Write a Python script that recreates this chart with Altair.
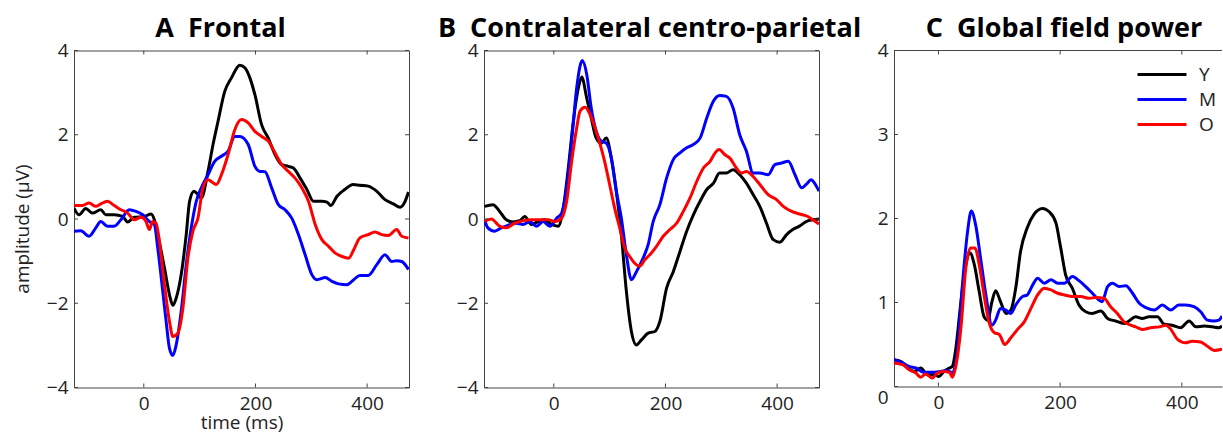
import altair as alt
import pandas as pd

FONT = "Open Sans"
SERIES = ["Y", "M", "O"]
COLORS = ["#000000", "#0000ff", "#ff0000"]
X_TICKS = [0, 200, 400]
Y_TICKS_AB = [-4, -2, 0, 2, 4]
Y_TICKS_C = [0, 1, 2, 3, 4]
TITLES = ["A\u00a0\u00a0Frontal", "B\u00a0\u00a0Contralateral centro-parietal", "C\u00a0\u00a0Global field power"]

A_Y = [(-125,0.26),(-116,0.1),(-104,0.25),(-92,0.14),(-77,0.22),(-68,0.1),(-53,0.1),(-38,0.06),(-29,-0.07),(-17,0.04),
       (1,0.06),(13,0.12),(19,-0.02),(25,-0.37),(37,-1.16),(46,-1.8),(52,-2.05),(58,-1.88),(67,-1.32),(76,-0.37),
       (82,0.42),(90,0.66),(97,0.58),(103,0.5),(115,1.13),(124,1.77),(133,2.32),(145,3.03),(157,3.35),(172,3.65),
       (181,3.59),(190,3.35),(199,2.95),(211,2.24),(223,1.92),(235,1.53),(247,1.29),(259,1.25),(268,1.21),(280,0.97),
       (292,0.7),(304,0.42),(319,0.42),(328,0.4),(335,0.32),(346,0.54),(360,0.7),(375,0.82),(387,0.8),(402,0.78),
       (417,0.66),(432,0.46),(447,0.36),(459,0.28),(468,0.42),(474,0.64)]
A_M = [(-125,-0.29),(-113,-0.28),(-98,-0.41),(-86,-0.21),(-77,-0.06),(-65,-0.17),(-53,-0.17),(-41,-0.02),(-26,0.22),(-14,0.18),
       (-2,0.1),(10,-0.06),(19,-0.13),(25,-0.69),(34,-1.72),(40,-2.43),(46,-3.07),(52,-3.24),(58,-2.99),(67,-2.19),
       (76,-1.09),(85,-0.21),(94,0.42),(103,0.74),(115,1.05),(127,1.37),(139,1.49),(151,1.61),(163,1.96),(172,1.96),
       (187,1.77),(199,1.25),(208,1.13),(217,1.12),(229,0.74),(241,0.34),(253,0.22),(265,0.02),(277,-0.37),(289,-0.85),
       (301,-1.32),(310,-1.44),(325,-1.39),(337,-1.48),(349,-1.54),(364,-1.56),(376,-1.44),(387,-1.34),(402,-1.34),(417,-1.09),
       (432,-0.85),(444,-1.01),(453,-0.99),(462,-1.01),(474,-1.2)]
A_O = [(-125,0.32),(-110,0.32),(-98,0.38),(-86,0.3),(-77,0.36),(-65,0.42),(-53,0.32),(-41,0.22),(-29,0.14),(-17,-0.02),
       (-5,0.04),(4,-0.06),(10,-0.25),(16,-0.06),(22,-0.1),(28,-0.53),(37,-1.56),(46,-2.43),(52,-2.79),(61,-2.71),
       (70,-2.12),(79,-0.93),(88,-0.29),(97,0.02),(106,0.74),(115,0.93),(124,0.86),(130,0.82),(139,1.05),(151,1.53),
       (163,2.12),(175,2.36),(187,2.28),(199,2.08),(211,1.96),(223,1.85),(235,1.57),(247,1.29),(259,1.13),(271,0.97),
       (283,0.74),(295,0.42),(307,-0.13),(319,-0.49),(331,-0.65),(343,-0.81),(355,-0.89),(367,-0.93),(376,-0.73),(387,-0.45),
       (402,-0.37),(414,-0.31),(426,-0.37),(438,-0.39),(453,-0.25),(462,-0.41),(474,-0.45)]

B_Y = [(-124,0.3),(-109,0.34),(-97,0.18),(-85,-0.02),(-73,-0.07),(-61,-0.04),(-52,0.06),(-40,-0.13),(-28,-0.06),(-16,-0.02),
       (-4,-0.13),(8,-0.17),(17,0.26),(26,1.21),(35,2.32),(44,3.11),(50,3.37),(59,2.87),(67,2.4),(76,1.92),
       (85,1.8),(94,1.92),(103,1.45),(112,0.66),(121,-0.37),(130,-1.72),(139,-2.67),(148,-2.99),(157,-2.87),(169,-2.71),
       (181,-2.67),(190,-2.43),(202,-1.64),(214,-1.25),(226,-0.77),(238,-0.29),(250,0.1),(262,0.42),(274,0.7),(286,0.85),
       (297,1.09),(309,1.09),(321,1.17),(333,1.05),(345,0.85),(357,0.58),(369,0.3),(381,-0.1),(393,-0.49),(405,-0.55),
       (417,-0.37),(428,-0.25),(440,-0.17),(452,-0.06),(464,-0.02),(475,0.0)]
B_M = [(-124,-0.02),(-118,-0.21),(-106,-0.29),(-94,-0.21),(-82,-0.15),(-67,-0.1),(-55,-0.13),(-43,-0.06),(-31,-0.17),(-19,-0.06),
       (-7,-0.17),(5,0.02),(14,0.14),(23,0.74),(32,1.85),(41,3.11),(47,3.63),(51,3.76),(59,3.43),(67,2.64),
       (76,2.08),(85,1.85),(94,1.8),(103,1.45),(112,0.66),(121,0.02),(130,-0.85),(139,-1.44),(148,-1.25),(160,-0.93),
       (169,-0.61),(178,-0.06),(190,0.34),(202,0.97),(214,1.41),(226,1.57),(238,1.69),(250,1.77),(262,1.92),(274,2.4),
       (286,2.8),(297,2.93),(309,2.91),(321,2.64),(333,2.0),(345,1.61),(357,1.09),(369,1.09),(384,1.05),(396,1.29),
       (408,1.33),(420,1.37),(432,1.05),(444,0.74),(452,0.82),(461,0.93),(467,0.85),(475,0.66)]
B_O = [(-124,-0.06),(-112,0.0),(-97,-0.17),(-85,-0.21),(-70,-0.1),(-55,-0.04),(-40,-0.02),(-25,-0.02),(-10,-0.02),(2,-0.06),
       (14,0.02),(23,0.42),(32,1.37),(41,2.16),(47,2.56),(56,2.65),(65,2.48),(74,2.16),(83,1.77),(91,1.37),
       (100,0.82),(109,0.26),(118,-0.21),(127,-0.69),(136,-0.89),(145,-1.05),(154,-1.12),(163,-0.97),(172,-0.85),(184,-0.65),
       (196,-0.41),(208,-0.25),(220,-0.1),(232,0.18),(244,0.5),(256,0.89),(268,1.21),(280,1.37),(289,1.57),(296,1.65),
       (306,1.53),(315,1.45),(327,1.21),(336,1.09),(345,1.13),(357,1.01),(369,0.82),(384,0.58),(399,0.46),(411,0.3),
       (426,0.18),(440,0.12),(455,0.06),(464,-0.02),(475,-0.12)]

C_Y = [(-73,0.32),(-62,0.3),(-51,0.22),(-40,0.18),(-29,0.22),(-18,0.14),(-7,0.14),(1,0.12),(9,0.18),(18,0.22),
       (23,0.24),(28,0.42),(37,1.01),(45,1.45),(52,1.59),(59,1.45),(67,1.13),(75,0.83),(81,0.79),(88,1.01),
       (94,1.14),(102,1.01),(111,0.87),(119,0.91),(127,1.17),(135,1.61),(146,1.89),(157,2.05),(171,2.12),(182,2.08),
       (193,1.95),(201,1.65),(209,1.33),(220,1.17),(231,0.97),(242,0.89),(253,0.87),(267,0.9),(278,0.81),(291,0.78),
       (305,0.75),(313,0.78),(324,0.83),(335,0.81),(346,0.83),(360,0.83),(371,0.74),(384,0.73),(398,0.7),(412,0.78),
       (423,0.71),(437,0.72),(450,0.71),(461,0.7),(466,0.72)]
C_M = [(-73,0.32),(-59,0.28),(-48,0.24),(-37,0.22),(-24,0.17),(-10,0.17),(4,0.18),(15,0.19),(23,0.16),(31,0.42),
       (39,1.17),(48,1.85),(54,2.09),(61,1.93),(70,1.49),(78,1.09),(88,0.73),(94,0.79),(102,0.93),(111,0.91),
       (119,0.87),(127,0.97),(138,1.07),(146,1.09),(155,1.21),(163,1.29),(174,1.23),(185,1.27),(196,1.23),(207,1.23),
       (220,1.31),(231,1.26),(242,1.19),(253,1.11),(264,1.03),(269,1.01),(278,1.19),(286,1.23),(297,1.19),(308,1.2),
       (319,1.11),(330,0.99),(341,0.94),(355,0.91),(368,0.97),(382,0.91),(395,0.97),(406,0.97),(420,0.95),(431,0.89),
       (442,0.79),(453,0.78),(461,0.79),(466,0.84)]
C_O = [(-73,0.28),(-59,0.26),(-48,0.2),(-37,0.16),(-29,0.11),(-21,0.15),(-10,0.1),(-2,0.16),(9,0.18),(18,0.17),
       (23,0.11),(28,0.22),(37,0.7),(45,1.41),(53,1.65),(60,1.65),(67,1.45),(75,1.09),(83,0.77),(92,0.64),
       (100,0.62),(109,0.5),(119,0.58),(130,0.68),(141,0.77),(152,0.93),(163,1.09),(174,1.17),(185,1.15),(196,1.11),
       (207,1.09),(220,1.07),(234,1.07),(248,1.05),(259,1.06),(272,1.05),(283,0.95),(294,0.87),(305,0.77),(316,0.73),
       (324,0.71),(335,0.68),(349,0.7),(363,0.71),(374,0.73),(382,0.68),(393,0.56),(406,0.52),(417,0.54),(431,0.53),
       (442,0.48),(453,0.43),(464,0.44),(466,0.45)]


def to_frame(curves):
    rows = []
    for name, pairs in zip(SERIES, curves):
        for t, v in pairs:
            rows.append({"t": t, "v": v, "group": name})
    return pd.DataFrame(rows)


BOX = "#444444"
TXT = "#222222"


def panel(curves, title, dx, xdom, ydom, yticks, W, H, extent,
          ytitle=None, xtitle=None, legend=None, box=True, zero_offset=0):
    df = to_frame(curves)
    xs = alt.Scale(domain=xdom, nice=False, zero=False)
    ys = alt.Scale(domain=ydom, nice=False, zero=False)
    xaxis_kw = dict(values=X_TICKS, ticks=False, domain=not box, domainColor=BOX, grid=False,
                    labelFont=FONT, labelFontSize=19, labelColor=TXT, labelPadding=7,
                    labelFlush=False)
    if xtitle:
        xaxis = alt.Axis(title=xtitle, titleFont=FONT, titleFontSize=19, titleFontWeight="normal",
                         titleColor=TXT, titlePadding=0, **xaxis_kw)
    else:
        xaxis = alt.Axis(title=None, **xaxis_kw)
    yaxis_kw = dict(values=yticks, ticks=False, domain=not box, domainColor=BOX, grid=False,
                    labelFont=FONT, labelFontSize=19, labelColor=TXT, labelPadding=6,
                    minExtent=extent, maxExtent=extent)
    if zero_offset:
        yaxis_kw["labelOffset"] = {"condition": {"test": "datum.value === 0", "value": zero_offset}, "value": 0}
    if ytitle:
        yaxis = alt.Axis(title=ytitle, titleFont=FONT, titleFontSize=19, titleFontWeight="normal",
                         titleColor=TXT, titlePadding=9, titleY=178, **yaxis_kw)
    else:
        yaxis = alt.Axis(title=None, **yaxis_kw)

    X = alt.X("t:Q", scale=xs, axis=xaxis)
    Y = alt.Y("v:Q", scale=ys, axis=yaxis)
    if legend is None:
        color = alt.Color("group:N", scale=alt.Scale(domain=SERIES, range=COLORS), legend=None)
    else:
        color = alt.Color("group:N", scale=alt.Scale(domain=SERIES, range=COLORS), legend=legend)

    lines = alt.Chart(df).mark_line(strokeWidth=3, interpolate="monotone", clip=True).encode(
        x=X, y=Y, color=color)

    xt = pd.DataFrame({"t": X_TICKS})
    yt = pd.DataFrame({"v": yticks})
    rule = dict(color=BOX, strokeWidth=1)
    bottom = alt.Chart(xt).mark_rule(**rule).encode(x=X, y=alt.value(H), y2=alt.value(H - 4))
    top = alt.Chart(xt).mark_rule(**rule).encode(x=X, y=alt.value(0), y2=alt.value(4))
    left = alt.Chart(yt).mark_rule(**rule).encode(y=Y, x=alt.value(0), x2=alt.value(4))
    layers = [lines, bottom, top, left]
    if box:
        right = alt.Chart(yt).mark_rule(**rule).encode(y=Y, x=alt.value(W), x2=alt.value(W - 4))
        layers.append(right)
    else:
        topline = alt.Chart(xt).mark_rule(**rule).encode(
            x=alt.value(0), x2=alt.value(W), y=alt.value(0))
        layers.append(topline)

    ch = alt.layer(*layers).properties(
        width=W, height=H,
        title=alt.TitleParams(text=title, font=FONT, fontSize=27, fontWeight="bold", color="black",
                              anchor="middle", offset=-1, dx=dx),
    )
    if not box:
        ch = ch.properties(view=alt.ViewBackground(stroke="transparent"))
    return ch


legendC = alt.Legend(title=None, orient="none", legendX=254, legendY=10,
                     symbolType="M-2,0H2", symbolSize=600, symbolStrokeWidth=3,
                     labelFont=FONT, labelFontSize=19, labelColor=TXT, labelOffset=23,
                     rowPadding=1, padding=0)

pA = panel([A_Y, A_M, A_O], TITLES[0], -21, [-125, 475], [-4, 4], Y_TICKS_AB, 335, 337, 33,
           ytitle="amplitude (\u00b5V)", xtitle="time (ms)")
pB = panel([B_Y, B_M, B_O], TITLES[1], -2, [-125, 475], [-4, 4], Y_TICKS_AB, 335, 337, 33)
pC = panel([C_Y, C_M, C_O], TITLES[2], 6, [-73, 466], [0, 4], Y_TICKS_C, 328, 336, 30,
           legend=legendC, box=False, zero_offset=11)

chart = alt.hconcat(pA, pB, pC, spacing=75, bounds="flush").resolve_scale(
    color="independent").resolve_legend(color="independent").properties(
    padding={"left": 12, "top": 13.5, "right": 0, "bottom": 0},
    background="white",
).configure_view(stroke=BOX, strokeWidth=1)

chart.save("out.html", embed_options={"renderer": "svg", "actions": False})
